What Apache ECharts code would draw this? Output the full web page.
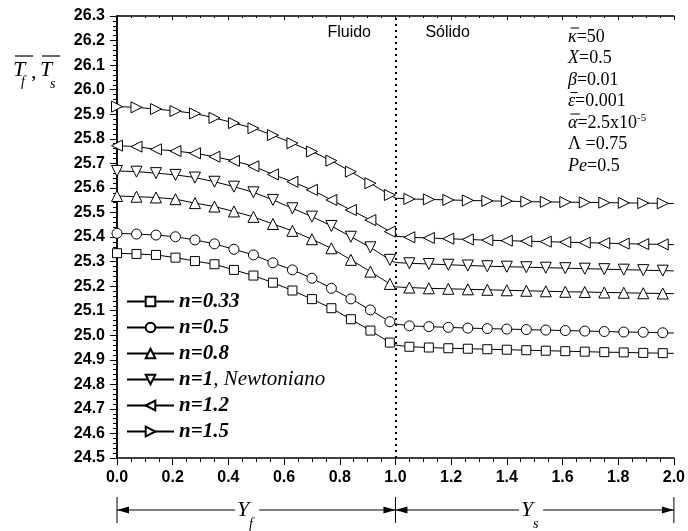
<!DOCTYPE html>
<html><head><meta charset="utf-8">
<script src="https://cdn.jsdelivr.net/npm/echarts@6/dist/echarts.min.js"></script>
<style>html,body{margin:0;padding:0;background:#fff}#c{width:688px;height:531px}</style>
</head><body><div id="c"></div>
<script>
// x positions (Y_f in 0..1, Y_s in 1..2)
const xs = [0, 0.07, 0.14, 0.21, 0.28, 0.35, 0.42, 0.49, 0.56, 0.63, 0.70, 0.77, 0.84, 0.91, 0.98, 1.00,
            1.05, 1.12, 1.19, 1.26, 1.33, 1.40, 1.47, 1.54, 1.61, 1.68, 1.75, 1.82, 1.89, 1.96, 2.00];
const unmarkedX = [1.00, 2.00];
const seriesNames = ['n=0.33', 'n=0.5', 'n=0.8', 'n=1', 'n=1.2', 'n=1.5'];
const n033 = [25.334, 25.331, 25.327, 25.316, 25.302, 25.289, 25.266, 25.243, 25.214, 25.182, 25.147, 25.110, 25.065, 25.019, 24.970, 24.960,
              24.953, 24.950, 24.947, 24.945, 24.943, 24.941, 24.939, 24.937, 24.935, 24.933, 24.931, 24.930, 24.928, 24.927, 24.926];
const n05  = [25.415, 25.412, 25.408, 25.401, 25.388, 25.372, 25.350, 25.327, 25.295, 25.266, 25.232, 25.191, 25.148, 25.103, 25.055, 25.046,
              25.038, 25.035, 25.032, 25.029, 25.027, 25.025, 25.023, 25.021, 25.019, 25.017, 25.015, 25.013, 25.012, 25.010, 25.009];
const n08  = [25.567, 25.564, 25.561, 25.554, 25.538, 25.524, 25.504, 25.482, 25.453, 25.425, 25.391, 25.354, 25.307, 25.259, 25.209, 25.197,
              25.194, 25.191, 25.189, 25.187, 25.185, 25.183, 25.181, 25.179, 25.177, 25.176, 25.174, 25.173, 25.171, 25.170, 25.169];
const n1   = [25.669, 25.666, 25.660, 25.653, 25.642, 25.625, 25.605, 25.582, 25.551, 25.517, 25.483, 25.445, 25.401, 25.358, 25.307, 25.296,
              25.293, 25.290, 25.287, 25.284, 25.281, 25.279, 25.277, 25.275, 25.273, 25.271, 25.269, 25.267, 25.265, 25.263, 25.262];
const n12  = [25.772, 25.768, 25.757, 25.750, 25.741, 25.727, 25.710, 25.688, 25.655, 25.625, 25.592, 25.551, 25.510, 25.469, 25.422, 25.403,
              25.399, 25.396, 25.393, 25.390, 25.387, 25.385, 25.383, 25.381, 25.379, 25.377, 25.375, 25.373, 25.371, 25.370, 25.369];
const n15  = [25.931, 25.928, 25.921, 25.913, 25.903, 25.885, 25.864, 25.843, 25.815, 25.782, 25.748, 25.711, 25.666, 25.619, 25.571, 25.558,
              25.555, 25.553, 25.551, 25.549, 25.547, 25.546, 25.544, 25.543, 25.542, 25.541, 25.540, 25.539, 25.538, 25.537, 25.536];
const seriesValues = [n033, n05, n08, n1, n12, n15];
const xMin = 0, xMax = 2, xStep = 0.2;
const yMin = 24.5, yMax = 26.3, yStep = 0.1;
// [symbol, value text, superscript, upright symbol, overbar]
const params = [
  ['κ', '=50', null, false, true], ['X', '=0.5', null, false, false], ['β', '=0.01', null, false, false],
  ['ε', '=0.001', null, false, true], ['α', '=2.5x10', '-5', false, true], ['Λ ', '=0.75', null, true, false],
  ['Pe', '=0.5', null, false, false]
];

const symbols = [
  {symbol: 'rect', size: 9, rot: 0},
  {symbol: 'circle', size: 10, rot: 0},
  {symbol: 'triangle', size: 11, rot: 0},
  {symbol: 'triangle', size: 11, rot: 180},
  {symbol: 'triangle', size: 11, rot: 90},
  {symbol: 'triangle', size: 11, rot: -90}
];

const chart = echarts.init(document.getElementById('c'), null, {renderer: 'canvas'});
const labelFont = {fontFamily: 'Liberation Sans, Arial', fontWeight: 'bold', fontSize: 16, color: '#000'};
const series = seriesValues.map((vals, i) => ({
  name: seriesNames[i],
  type: 'line',
  symbol: symbols[i].symbol,
  symbolSize: symbols[i].size,
  symbolRotate: symbols[i].rot,
  showAllSymbol: true,
  lineStyle: {color: '#000', width: 1},
  itemStyle: {color: '#fff', borderColor: '#000', borderWidth: 1},
  emphasis: {disabled: true},
  data: xs.map((x, j) => unmarkedX.includes(x) ? {value: [x, vals[j]], symbol: 'none'} : [x, vals[j]]),
  z: 3
}));
series.push({
  type: 'line', data: [], silent: true,
  markLine: {
    silent: true, symbol: 'none', label: {show: false},
    lineStyle: {color: '#000', type: [2, 4], width: 2},
    data: [{xAxis: 1}]
  }
});

const commonTick = {lineStyle: {color: '#000', width: 1}};
const option = {
  animation: false,
  backgroundColor: '#fff',
  grid: {left: 117, right: 9, top: 16, bottom: 73},
  xAxis: [{
    type: 'value', min: xMin, max: xMax, interval: xStep,
    axisLine: {lineStyle: {color: '#000', width: 1.5}},
    axisTick: {length: 7, ...commonTick},
    minorTick: {show: true, splitNumber: 4, length: 4, ...commonTick},
    splitLine: {show: false},
    axisLabel: {...labelFont, margin: 12, formatter: v => v.toFixed(1)}
  }, {
    type: 'value', position: 'top', min: xMin, max: xMax, interval: xStep,
    axisLine: {lineStyle: {color: '#000', width: 1.5}},
    axisTick: {inside: true, length: 4, ...commonTick},
    minorTick: {show: true, splitNumber: 4, length: 2, ...commonTick},
    splitLine: {show: false}, axisLabel: {show: false}
  }],
  yAxis: [{
    type: 'value', min: yMin, max: yMax, interval: yStep,
    axisLine: {lineStyle: {color: '#000', width: 1.5}},
    axisTick: {length: 7, ...commonTick},
    minorTick: {show: true, splitNumber: 5, length: 4, ...commonTick},
    splitLine: {show: false},
    axisLabel: {...labelFont, margin: 12, formatter: v => v.toFixed(1)}
  }, {
    type: 'value', position: 'right', min: yMin, max: yMax, interval: yStep,
    axisLine: {lineStyle: {color: '#000', width: 1.5}},
    axisTick: {inside: true, length: 4, ...commonTick},
    minorTick: {show: true, splitNumber: 5, length: 2, ...commonTick},
    splitLine: {show: false}, axisLabel: {show: false}
  }],
  legend: {
    orient: 'vertical', left: 121, top: 286,
    itemWidth: 47, itemHeight: 12, itemGap: 5,
    selectedMode: false,
    data: seriesNames,
    formatter: name => name === 'n=1' ? '{b|n=1}{r|, Newtoniano}' : '{b|' + name + '}',
    textStyle: {
      rich: {
        b: {fontFamily: 'Liberation Serif', fontStyle: 'italic', fontWeight: 'bold', fontSize: 21, lineHeight: 22, color: '#000'},
        r: {fontFamily: 'Liberation Serif', fontStyle: 'italic', fontSize: 21, lineHeight: 22, color: '#000'}
      }
    }
  },
  series: series
};
chart.setOption(option);

// annotations
const measureCtx = document.createElement('canvas').getContext('2d');
function textWidth(text, font) { measureCtx.font = font; return measureCtx.measureText(text).width; }
const px = x => chart.convertToPixel({xAxisIndex: 0}, x);
const x0 = px(xMin), x1 = px(1), x2 = px(xMax);
const graphics = [];
const serif = 'Liberation Serif';
function txt(x, y, text, font, extra) {
  graphics.push({type: 'text', x: x, y: y, silent: true,
    style: Object.assign({text: text, font: font, fill: '#000', textVerticalAlign: 'middle'}, extra || {})});
}
function bar(xa, xb, y) {
  graphics.push({type: 'line', silent: true, shape: {x1: xa, y1: y, x2: xb, y2: y}, style: {stroke: '#000', lineWidth: 1}});
}
// Fluido / Sólido
txt(x1 - 68, 33, 'Fluido', '16px Liberation Sans');
txt(x1 + 30, 33, 'Sólido', '16px Liberation Sans');
// parameters block
params.forEach((p, i) => {
  const y = 37 + i * 21.5;
  const x = 568;
  const symFont = (p[3] ? '' : 'italic ') + '18px ' + serif;
  const w = textWidth(p[0], symFont);
  txt(x, y, p[0], symFont);
  if (p[4]) bar(x + 2.5, x + w + 2.5, y - 9);
  graphics.push({
    type: 'text', x: x + w, y: y, silent: true,
    style: {
      text: '{n|' + p[1] + '}' + (p[2] ? '{sup|' + p[2] + '}' : ''),
      textVerticalAlign: 'middle',
      rich: {
        n: {fontFamily: serif, fontSize: 18, color: '#000'},
        sup: {fontFamily: serif, fontSize: 11, color: '#000', padding: [0, 0, 10, 0]}
      }
    }
  });
});
// y axis title: T̄f, T̄s
txt(13, 70, 'T', 'italic 22px Liberation Serif');
txt(21, 82, 'f', 'italic 14px Liberation Serif');
txt(31, 72, ',', '22px Liberation Serif');
txt(40, 70, 'T', 'italic 22px Liberation Serif');
txt(50, 84, 's', 'italic 14px Liberation Serif');
graphics.push({type: 'line', silent: true, shape: {x1: 15, y1: 56, x2: 33, y2: 56}, style: {stroke: '#000', lineWidth: 1.2}});
graphics.push({type: 'line', silent: true, shape: {x1: 42, y1: 56, x2: 60, y2: 56}, style: {stroke: '#000', lineWidth: 1.2}});

// bottom dimension arrows
const ay = 510;
[x0, x1, x2].forEach(x => graphics.push({type: 'line', silent: true, shape: {x1: x, y1: 497, x2: x, y2: 523}, style: {stroke: '#000', lineWidth: 1}}));
function arrowHead(tipX, dir) {
  graphics.push({type: 'polygon', silent: true,
    shape: {points: [[tipX, ay], [tipX - dir * 12, ay - 3.5], [tipX - dir * 12, ay + 3.5]]},
    style: {fill: '#000'}});
}
function dimension(a, b, labelX, sub) {
  graphics.push({type: 'line', silent: true, shape: {x1: a, y1: ay, x2: labelX - 10, y2: ay}, style: {stroke: '#000', lineWidth: 1}});
  graphics.push({type: 'line', silent: true, shape: {x1: labelX + 14, y1: ay, x2: b, y2: ay}, style: {stroke: '#000', lineWidth: 1}});
  arrowHead(a, -1); arrowHead(b, 1);
  txt(labelX - 8, ay, 'Y', 'italic 22px Liberation Serif');
  txt(labelX + 4, ay + 14, sub, 'italic 14px Liberation Serif');
}
dimension(x0, x1, px(0.46), 'f');
dimension(x1, x2, px(1.48), 's');

chart.setOption({graphic: graphics});
</script>
</body></html>
